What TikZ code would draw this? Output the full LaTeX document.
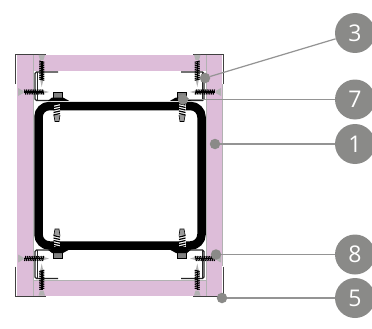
\documentclass[tikz,border=0pt]{standalone}
\usepackage{fontspec}
\setmainfont{Open Sans}
\definecolor{panelpink}{HTML}{DDBDD9}
\definecolor{calloutgray}{HTML}{8A8A88}
\begin{document}
\begin{tikzpicture}
  [x=1pt,y=-1pt,
   panel/.style={fill=panelpink,draw=none},
   seam/.style={draw=black!30,line width=0.7pt},
   bracket/.style={draw=black!85,line width=0.9pt,rounded corners=1.5pt},
   trim/.style={draw=black!75,line width=0.9pt},
   callout/.style={circle,fill=calloutgray,text=white,minimum size=40pt,inner sep=0pt,font=\fontsize{23}{23}\selectfont},
   calldot/.style={circle,fill=calloutgray,minimum size=10.5pt,inner sep=0pt},
   leader/.style={draw=black!42,line width=1.2pt},
   corner/.pic={
     % outer trim
     \draw[trim] (15.5,84) -- (15.5,54.5) -- (46,54.5);
     % z bracket
     \draw[bracket,line width=1.2pt] (58,72) -- (35,72) -- (35,100.5) -- (51,100.5);
     \draw[bracket,line width=0.6pt] (36.8,72) -- (36.8,100.5);
     % screw through the top panel
     \fill[black!30] (38.5,55) -- (45,55) -- (43.5,60) -- (40,60) -- cycle;
     \fill[black!30] (39.8,78) -- (43.8,78) -- (41.7,87) -- cycle;
     \draw[black,line width=1.6pt] (41.7,61) -- (41.7,80);
     \foreach \ty in {61,62.8,...,80}
       \draw[black,line width=1.1pt] (39.3,\ty) -- (44.3,\ty+1.3);
     % screw through the side panel
     \fill[black!30] (18,88) -- (18,96) -- (23.5,93) -- (23.5,91) -- cycle;
     \fill[black!30] (42,90) -- (42,94) -- (49,92) -- cycle;
     \draw[black,line width=1.6pt] (24,92) -- (43,92);
     \foreach \tx in {24.5,26.3,...,43}
       \draw[black,line width=1.1pt] (\tx,89.5) -- (\tx+1.3,94.5);
     % bolt on the tube
     \fill[black!50] (53,92) rectangle (62,98);
     \draw[black,line width=0.8pt] (53,92) rectangle (62,98);
     \fill[black] (48,100.8) -- (52,97.5) -- (63,97.5) -- (69,100.8) -- cycle;
     \fill[white] (53.5,103.5) rectangle (60,116);
     \fill[black!40] (53.8,115) -- (60,115) -- (59,121.5) -- (55,121.5) -- cycle;
     \draw[black,line width=0.6pt] (53.8,115) -- (55,121.5) -- (59,121.5) -- (60,115);
     \foreach \ty in {103.5,106,...,114}
       \draw[black,line width=1.2pt] (53.5,\ty+1.5) -- (60,\ty);
   }]
  \clip (0,0) rectangle (372,329);
  % panels
  \fill[panel] (17,55) rectangle (33,296);
  \fill[panel] (206,55) rectangle (222,296);
  \fill[panel] (33,55) rectangle (206,71.5);
  \fill[panel] (33,280) rectangle (206,296);
  \draw[seam] (33,55) -- (33,296);
  \draw[seam] (206,55) -- (206,296);
  \draw[seam] (33,280) -- (206,280);
  \draw[seam] (222,84) -- (222,266);
  % tube
  \draw[black,line width=8.5pt,rounded corners=11pt] (38.5,106) rectangle (201.5,245.5);
  % fasteners
  \pic at (0,0) {corner};
  \pic[xscale=-1] at (239,0) {corner};
  \pic[yscale=-1] at (0,350.5) {corner};
  \pic[xscale=-1,yscale=-1] at (239,350.5) {corner};
  % callouts
  \node[callout] (c3) at (355,33) {3};
  \node[callout] (c7) at (355,99.5) {7};
  \node[callout] (c1) at (355,144) {1};
  \node[callout] (c8) at (355,254.5) {8};
  \node[callout] (c5) at (355,298) {5};
  \node[calldot] (d3) at (205,78) {};
  \node[calldot] (d7) at (183,99.5) {};
  \node[calldot] (d1) at (215,144) {};
  \node[calldot] (d8) at (216,254.5) {};
  \node[calldot] (d5) at (222,298) {};
  \draw[leader] (d3) -- (c3);
  \draw[leader] (d7) -- (c7);
  \draw[leader] (d1) -- (c1);
  \draw[leader] (d8) -- (c8);
  \draw[leader] (d5) -- (c5);
\end{tikzpicture}
\end{document}
